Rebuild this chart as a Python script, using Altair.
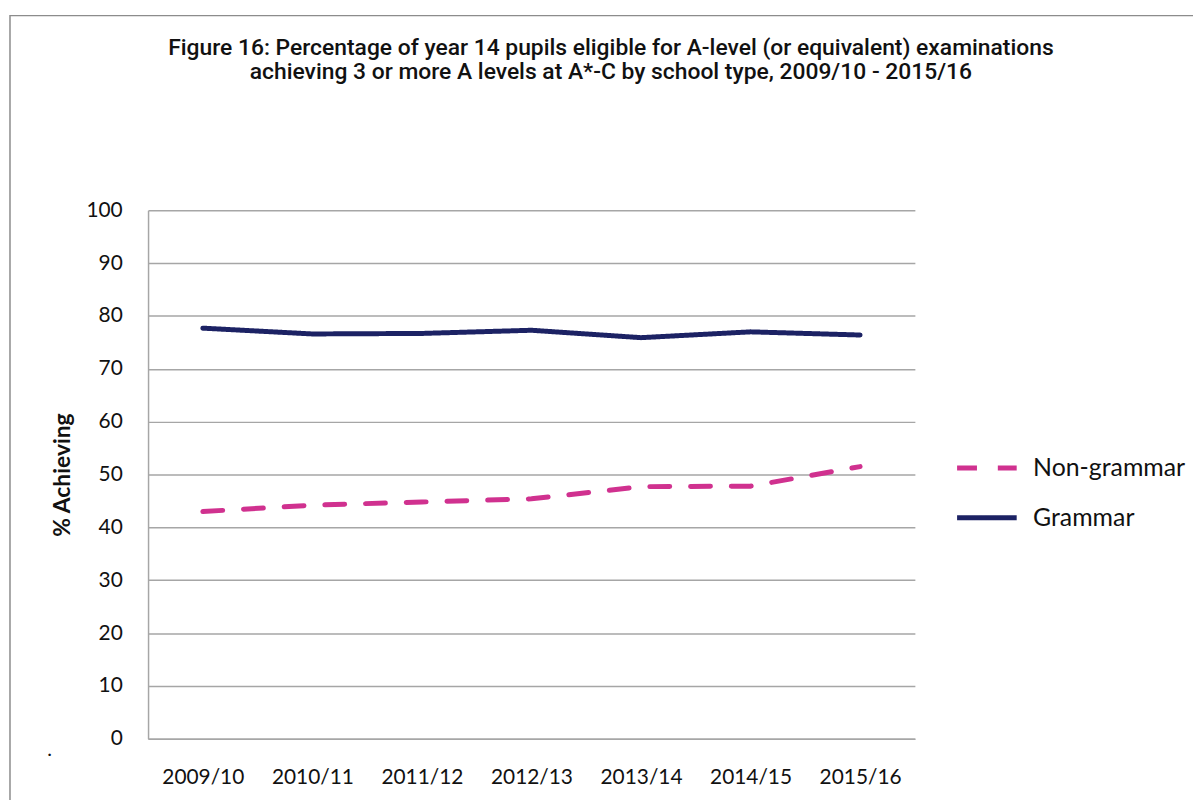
import altair as alt
import pandas as pd

years = ["2009/10", "2010/11", "2011/12", "2012/13", "2013/14", "2014/15", "2015/16"]
grammar = [77.7, 76.6, 76.7, 77.3, 75.9, 77.0, 76.4]
non_grammar = [43.0, 44.2, 44.8, 45.4, 47.7, 47.8, 51.5]
series = ["Non-grammar", "Grammar"]
colors = ["#d0318f", "#1c2264"]
y_ticks = list(range(0, 101, 10))

rows = []
for y, v in zip(years, non_grammar):
    rows.append({"Year": y, "Type": "Non-grammar", "Value": v})
for y, v in zip(years, grammar):
    rows.append({"Year": y, "Type": "Grammar", "Value": v})
df = pd.DataFrame(rows)

W, H = 772, 532
PL, PT = 141, 201

lines = alt.Chart(df).mark_line(strokeWidth=5, strokeCap="round").encode(
    x=alt.X("Year:O", sort=years, scale=alt.Scale(type="point", padding=0.5),
            axis=alt.Axis(title=None, labelAngle=0, labelFontSize=21, labelFont="Lato",
                          labelColor="#111", labelPadding=28, ticks=False,
                          domainColor="#a6a6a6", domainWidth=1.5, grid=False)),
    y=alt.Y("Value:Q", scale=alt.Scale(domain=[0, 100]),
            axis=alt.Axis(values=y_ticks, title="% Achieving", titleFontSize=23,
                          titleFont="Lato", titleFontWeight="bold", titleColor="#111",
                          titlePadding=12, labelFontSize=21, labelFont="Lato",
                          labelColor="#111", labelPadding=26, ticks=False,
                          domainColor="#a6a6a6", domainWidth=1.5,
                          gridColor="#a6a6a6", gridWidth=1.5)),
    color=alt.Color("Type:N", scale=alt.Scale(domain=series, range=colors),
                    sort=series, legend=alt.Legend(title=None)),
    strokeDash=alt.StrokeDash("Type:N", sort=series,
                              scale=alt.Scale(domain=series, range=[[20, 21], [1, 0]]),
                              legend=alt.Legend(title=None)),
)

border = alt.Chart(pd.DataFrame({"a": [0]})).mark_rect(
    fill=None, stroke="#8c8c8c", strokeWidth=1.5
).encode(x=alt.value(-139), x2=alt.value(1201 - 149 + 20),
         y=alt.value(-196), y2=alt.value(800 - 209 + 20))

dot = alt.Chart(pd.DataFrame({"t": ["."]})).mark_text(
    fontSize=20, font="Lato", color="#111"
).encode(text="t:N", x=alt.value(50 - 149), y=alt.value(752 - 209))

chart = alt.layer(border, lines, dot).properties(
    width=W, height=H,
    title=alt.TitleParams(
        ["Figure 16: Percentage of year 14 pupils eligible for A-level (or equivalent) examinations",
         "achieving 3 or more A levels at A*-C by school type, 2009/10 - 2015/16"],
        fontSize=23, font="Roboto", fontWeight=500, color="#111",
        anchor="middle", frame="group", lineHeight=25, offset=-70, dx=80),
    autosize=alt.AutoSizeParams(type="none"),
    padding={"left": PL, "top": PT, "right": 1193 - PL - W, "bottom": 792 - PT - H},
).configure_view(stroke=None).configure_legend(
    orient="none", legendX=812, legendY=227, symbolType="stroke", symbolSize=3600,
    symbolStrokeWidth=5, labelFontSize=25, labelFont="Lato", labelColor="#111",
    labelOffset=14, rowPadding=4, padding=0
)

chart.save("out.html", embed_options={"renderer": "svg", "actions": False})
